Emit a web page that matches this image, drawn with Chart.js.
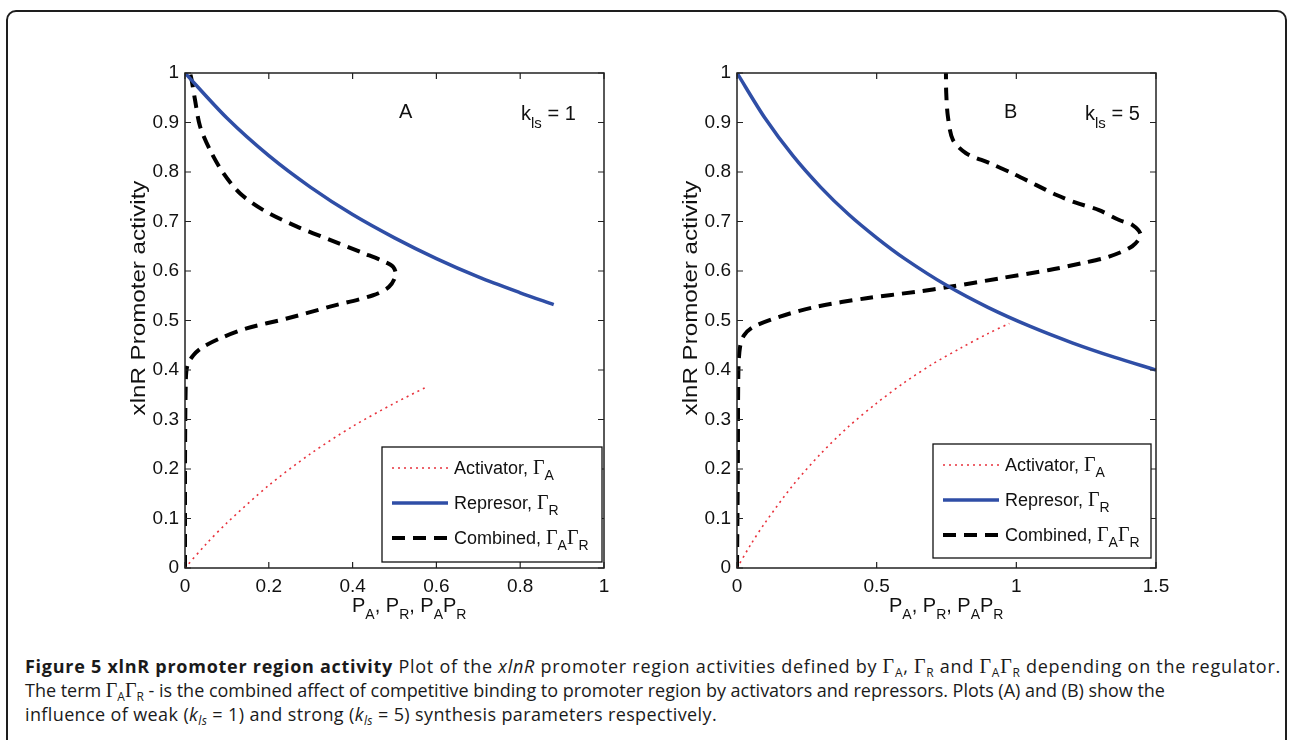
<!DOCTYPE html>
<html>
<head>
<meta charset="utf-8">
<script src="https://cdn.jsdelivr.net/npm/chart.js@4.4.1/dist/chart.umd.min.js"></script>
<style>
  body { margin: 0; background: #fff; width: 1289px; height: 740px; overflow: hidden; position: relative; }
  #frame { position: absolute; left: 6px; top: 10px; width: 1281px; height: 800px; border: 2px solid #1e1e1e; border-radius: 10px; box-sizing: border-box; }
  .box { position: absolute; top: 50px; width: 520px; height: 590px; }
  #boxA { left: 110px; }
  #boxB { left: 662px; }
  .cap { position: absolute; left: 25px; font-family: "Open Sans", sans-serif; font-size: 18px; color: #1a1a1a; white-space: nowrap; line-height: 22px; }
  .cap b { font-weight: 700; }
  .g { font-family: "Liberation Serif", serif; font-size: 20px; }
  .cap sub { font-size: 12px; vertical-align: -4px; }
</style>
</head>
<body>
<div id="frame"></div>
<div class="box" id="boxA"><canvas id="chartA" width="520" height="590"></canvas></div>
<div class="box" id="boxB"><canvas id="chartB" width="520" height="590"></canvas></div>

<div class="cap" data-right="1281" style="top:655px"><b>Figure 5 xlnR promoter region activity</b> Plot of the <i>xlnR</i> promoter region activities defined by <span class="g">Γ</span><sub>A</sub>, <span class="g">Γ</span><sub>R</sub> and <span class="g">Γ</span><sub>A</sub><span class="g">Γ</span><sub>R</sub> depending on the regulator.</div>
<div class="cap" data-right="1165" style="top:679px">The term <span class="g">Γ</span><sub>A</sub><span class="g">Γ</span><sub>R</sub> - is the combined affect of competitive binding to promoter region by activators and repressors. Plots (A) and (B) show the</div>
<div class="cap" data-right="717" style="top:703px">influence of weak (<i>k<sub>ls</sub></i> = 1) and strong (<i>k<sub>ls</sub></i> = 5) synthesis parameters respectively.</div>

<script>
// Panel A (k_ls = 1)
const actAx = [0, 0.05, 0.1, 0.2, 0.3, 0.4, 0.5, 0.575];
const actAy = [0, 0.048, 0.091, 0.167, 0.231, 0.286, 0.333, 0.365];
const repAx = [0, 0.1, 0.2, 0.3, 0.4, 0.5, 0.6, 0.7, 0.8, 0.88];
const repAy = [1, 0.909, 0.833, 0.769, 0.714, 0.667, 0.625, 0.588, 0.556, 0.532];
const comAx = [0, 0, 0.002, 0.006, 0.02, 0.04, 0.084, 0.147, 0.243, 0.346, 0.449, 0.487, 0.503, 0.497, 0.478, 0.426, 0.346, 0.266, 0.187, 0.131, 0.092, 0.060, 0.036, 0.024, 0.016, 0.012];
const comAy = [0, 0.2, 0.38, 0.41, 0.43, 0.445, 0.464, 0.484, 0.504, 0.528, 0.551, 0.568, 0.592, 0.608, 0.618, 0.636, 0.663, 0.690, 0.723, 0.757, 0.797, 0.844, 0.892, 0.945, 0.985, 1.0];
const xTicksA = [0, 0.2, 0.4, 0.6, 0.8, 1];

// Panel B (k_ls = 5)
const actBx = [0, 0.05, 0.1, 0.2, 0.3, 0.4, 0.5, 0.6, 0.7, 0.8, 0.9, 0.975];
const actBy = [0, 0.048, 0.091, 0.167, 0.231, 0.286, 0.333, 0.375, 0.412, 0.444, 0.474, 0.494];
const repBx = [0, 0.1, 0.2, 0.3, 0.4, 0.5, 0.6, 0.75, 0.9, 1.05, 1.2, 1.35, 1.5];
const repBy = [1, 0.909, 0.833, 0.769, 0.714, 0.667, 0.625, 0.571, 0.526, 0.488, 0.455, 0.426, 0.400];
const comBx = [0, 0.003, 0.005, 0.011, 0.025, 0.058, 0.154, 0.285, 0.463, 0.642, 0.761, 0.939, 1.118, 1.237, 1.332, 1.415, 1.445, 1.415, 1.368, 1.296, 1.213, 1.142, 1.07, 0.987, 0.904, 0.82, 0.773, 0.755, 0.749, 0.748];
const comBy = [0, 0.2, 0.4, 0.447, 0.47, 0.487, 0.508, 0.528, 0.545, 0.558, 0.568, 0.585, 0.602, 0.616, 0.629, 0.650, 0.673, 0.693, 0.703, 0.723, 0.738, 0.754, 0.774, 0.797, 0.818, 0.838, 0.865, 0.912, 0.96, 1.0];
const xTicksB = [0, 0.5, 1, 1.5];

const yTicks = [0, 0.1, 0.2, 0.3, 0.4, 0.5, 0.6, 0.7, 0.8, 0.9, 1];

const sans = '"Liberation Sans", Arial, sans-serif';
const serif = '"Liberation Serif", "Times New Roman", serif';
const red = '#e8323c';
const blue = '#2f4ea6';

function pts(xs, ys) {
  return xs.map((x, i) => ({ x: x, y: ys[i] }));
}

// draw a run of text pieces, some of them subscripts
function drawRich(ctx, parts, x, y) {
  parts.forEach(p => {
    ctx.font = p.font;
    ctx.fillText(p.t, x, y + (p.dy || 0));
    x += ctx.measureText(p.t).width + (p.gap || 0);
  });
  return x;
}
const big = '18px ' + sans;
const small = '14px ' + sans;
const gam = '20px ' + serif;

function legendItems() {
  return [
    { label: [{ t: 'Activator, ', font: big }, { t: 'Γ', font: gam }, { t: 'A', font: small, dy: 6 }], color: red, width: 1.6, dash: [2, 4] },
    { label: [{ t: 'Represor, ', font: big }, { t: 'Γ', font: gam }, { t: 'R', font: small, dy: 6 }], color: blue, width: 3.5, dash: [] },
    { label: [{ t: 'Combined, ', font: big }, { t: 'Γ', font: gam }, { t: 'A', font: small, dy: 6 }, { t: 'Γ', font: gam }, { t: 'R', font: small, dy: 6 }], color: '#000', width: 4, dash: [13, 8] }
  ];
}

function makePlugin(opt) {
  return {
    id: 'matlabBits',
    afterDraw(chart) {
      const ctx = chart.ctx;
      const a = chart.chartArea;
      const xs = chart.scales.x, ys = chart.scales.y;
      ctx.save();
      // box and inward ticks
      ctx.strokeStyle = '#222';
      ctx.lineWidth = 1.5;
      ctx.setLineDash([]);
      ctx.strokeRect(a.left, a.top, a.right - a.left, a.bottom - a.top);
      ctx.lineWidth = 1.2;
      ctx.beginPath();
      opt.xTicks.forEach(v => {
        const px = xs.getPixelForValue(v);
        ctx.moveTo(px, a.bottom); ctx.lineTo(px, a.bottom - 6);
        ctx.moveTo(px, a.top); ctx.lineTo(px, a.top + 6);
      });
      yTicks.forEach(v => {
        const py = ys.getPixelForValue(v);
        ctx.moveTo(a.left, py); ctx.lineTo(a.left + 6, py);
        ctx.moveTo(a.right, py); ctx.lineTo(a.right - 6, py);
      });
      ctx.stroke();

      ctx.fillStyle = '#111';
      ctx.textBaseline = 'alphabetic';
      ctx.textAlign = 'left';
      // panel letter and k_ls note
      ctx.font = '20px ' + sans;
      ctx.fillText(opt.letter, opt.letterX, 68);
      drawRich(ctx, [{ t: 'k', font: '20px ' + sans }, { t: 'ls', font: '15px ' + sans, dy: 8 }, { t: ' = ' + opt.k, font: '20px ' + sans }], opt.kX, 70);

      // x axis title
      const xt = [
        { t: 'P', font: '20px ' + sans }, { t: 'A', font: small, dy: 7 }, { t: ', P', font: '20px ' + sans },
        { t: 'R', font: small, dy: 7 }, { t: ', P', font: '20px ' + sans }, { t: 'A', font: small, dy: 7 },
        { t: 'P', font: '20px ' + sans }, { t: 'R', font: small, dy: 7 }
      ];
      drawRich(ctx, xt, opt.xTitleX, 562);

      // y axis title, stretched a little along its length like the original
      ctx.save();
      ctx.translate(28, 248);
      ctx.rotate(-Math.PI / 2);
      ctx.scale(1.15, 1);
      ctx.textAlign = 'center';
      ctx.font = '21px ' + sans;
      ctx.fillText('xlnR Promoter activity', 0, 7);
      ctx.restore();

      // legend
      const L = opt.legend;
      ctx.fillStyle = '#fff';
      ctx.fillRect(L.x, L.y, L.w, L.h);
      ctx.strokeStyle = '#111';
      ctx.lineWidth = 1.3;
      ctx.strokeRect(L.x, L.y, L.w, L.h);
      legendItems().forEach((it, i) => {
        const cy = L.y + 21 + i * 35;
        ctx.strokeStyle = it.color;
        ctx.lineWidth = it.width;
        ctx.setLineDash(it.dash);
        ctx.beginPath();
        ctx.moveTo(L.x + 10, cy); ctx.lineTo(L.x + 66, cy);
        ctx.stroke();
        ctx.setLineDash([]);
        ctx.fillStyle = '#111';
        drawRich(ctx, it.label, L.x + 72, cy + 6);
      });
      ctx.restore();
    }
  };
}

const tickFmt = v => String(Math.round(v * 10) / 10);

function makeChart(id, sets, xMax, xStep, opt) {
  return new Chart(document.getElementById(id), {
    type: 'scatter',
    data: {
      datasets: [
        { label: 'Activator', data: pts(sets[0], sets[1]), showLine: true, borderColor: red, borderWidth: 1.6, borderDash: [2, 4], pointRadius: 0, tension: 0.3 },
        { label: 'Represor', data: pts(sets[2], sets[3]), showLine: true, borderColor: blue, borderWidth: 3.5, pointRadius: 0, tension: 0.3 },
        { label: 'Combined', data: pts(sets[4], sets[5]), showLine: true, borderColor: '#000', borderWidth: 4, borderDash: [13, 8], pointRadius: 0, tension: 0.3 }
      ]
    },
    options: {
      responsive: false,
      animation: false,
      events: [],
      layout: { padding: { left: 0, top: 23, right: 26, bottom: 0 } },
      plugins: { legend: { display: false }, tooltip: { enabled: false } },
      scales: {
        x: {
          type: 'linear', min: 0, max: xMax,
          afterFit: s => { s.height = 72; },
          grid: { display: false, drawTicks: false },
          border: { display: false },
          ticks: { stepSize: xStep, padding: 7, color: '#111', font: { family: sans, size: 19 }, maxRotation: 0, callback: tickFmt }
        },
        y: {
          type: 'linear', min: 0, max: 1,
          afterFit: s => { s.width = 75; },
          grid: { display: false, drawTicks: false },
          border: { display: false },
          ticks: { stepSize: 0.1, padding: 6, color: '#111', font: { family: sans, size: 19 }, callback: tickFmt }
        }
      }
    },
    plugins: [makePlugin(opt)]
  });
}

makeChart('chartA', [actAx, actAy, repAx, repAy, comAx, comAy], 1, 0.2, {
  xTicks: xTicksA, letter: 'A', letterX: 289, k: 1, kX: 411, xTitleX: 242,
  legend: { x: 272, y: 397, w: 220, h: 115 }
});
makeChart('chartB', [actBx, actBy, repBx, repBy, comBx, comBy], 1.5, 0.5, {
  xTicks: xTicksB, letter: 'B', letterX: 342, k: 5, kX: 423, xTitleX: 227,
  legend: { x: 271, y: 394, w: 218, h: 114 }
});

// stretch each caption line to the width it has in the figure
document.querySelectorAll('.cap').forEach(el => {
  const target = +el.dataset.right - 25;
  const w = el.getBoundingClientRect().width;
  const n = el.textContent.length;
  el.style.letterSpacing = ((target - w) / n).toFixed(3) + 'px';
});
</script>
</body>
</html>
